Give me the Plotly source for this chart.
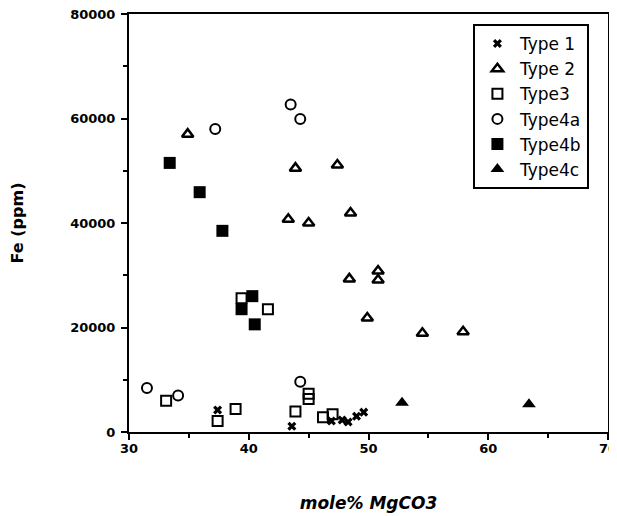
import plotly.graph_objects as go

type1_x = [37.4, 43.6, 46.9, 47.8, 48.3, 49.0, 49.6]
type1_y = [4200, 1100, 2100, 2300, 1900, 3000, 3800]

type2_x = [34.9, 43.9, 47.4, 48.5, 43.3, 45.0, 48.4, 50.8, 50.8, 49.9, 54.5, 57.9]
type2_y = [57000, 50500, 51100, 41900, 40700, 40000, 29300, 30800, 29100, 21800, 18900, 19200]

type3_x = [33.1, 37.4, 38.9, 39.4, 41.6, 43.9, 45.0, 45.0, 46.2, 47.0]
type3_y = [6000, 2100, 4400, 25600, 23500, 3900, 7300, 6300, 2800, 3400]

type4a_x = [31.5, 34.1, 37.2, 43.5, 44.3, 44.3]
type4a_y = [8400, 7000, 58000, 62700, 59900, 9600]

type4b_x = [33.4, 35.9, 37.8, 40.3, 39.4, 40.5]
type4b_y = [51500, 45900, 38500, 26000, 23500, 20600]

type4c_x = [52.8, 63.4]
type4c_y = [5600, 5300]

x_ticks = [30, 40, 50, 60, 70]
y_ticks = [0, 20000, 40000, 60000, 80000]

fig = go.Figure()
black = "black"
fig.add_trace(go.Scatter(x=type1_x, y=type1_y, mode="markers", name="Type 1",
                         marker=dict(symbol="x", size=8, color=black, line=dict(width=0))))
fig.add_trace(go.Scatter(x=type2_x, y=type2_y, mode="markers", name="Type 2",
                         marker=dict(symbol="triangle-up-open", size=10, color=black, line=dict(width=2.5, color=black))))
fig.add_trace(go.Scatter(x=type3_x, y=type3_y, mode="markers", name="Type3",
                         marker=dict(symbol="square-open", size=10, color=black, line=dict(width=2, color=black))))
fig.add_trace(go.Scatter(x=type4a_x, y=type4a_y, mode="markers", name="Type4a",
                         marker=dict(symbol="circle-open", size=10, color=black, line=dict(width=2, color=black))))
fig.add_trace(go.Scatter(x=type4b_x, y=type4b_y, mode="markers", name="Type4b",
                         marker=dict(symbol="square", size=12, color=black)))
fig.add_trace(go.Scatter(x=type4c_x, y=type4c_y, mode="markers", name="Type4c",
                         marker=dict(symbol="triangle-up", size=12, color=black)))

tickfont = dict(family="DejaVu Sans", size=13, color=black, weight="bold")

# page body adds an 8px offset, so the figure is sized/margined to compensate
fig.update_layout(
    width=609, height=508,
    margin=dict(l=121, r=9, t=6, b=84),
    plot_bgcolor="white", paper_bgcolor="white",
    showlegend=True,
    legend=dict(x=0.718, y=0.976, xanchor="left", yanchor="top",
                bordercolor=black, borderwidth=2, bgcolor="white",
                font=dict(family="DejaVu Sans", size=17, color=black),
                tracegroupgap=0, itemwidth=35, entrywidth=80, entrywidthmode="pixels"),
    xaxis=dict(range=[30, 70], tickvals=x_ticks, ticktext=[str(v) for v in x_ticks],
               showgrid=False, zeroline=False, showline=True, linecolor=black, linewidth=2,
               mirror=True, ticks="outside", ticklen=6, tickwidth=2, tickcolor=black,
               minor=dict(dtick=5, ticks="outside", ticklen=4, tickwidth=1.5, tickcolor=black, showgrid=False),
               tickfont=tickfont, automargin=False, ticklabelstandoff=-3, ticklabeloverflow="allow",
               title=dict(text="mole% MgCO3", standoff=43,
                          font=dict(family="DejaVu Sans", size=17, color=black, weight="bold", style="italic"))),
    yaxis=dict(range=[0, 80000], tickvals=y_ticks, ticktext=[str(v) for v in y_ticks],
               showgrid=False, zeroline=False, showline=True, linecolor=black, linewidth=2,
               mirror=True, ticks="outside", ticklen=6, tickwidth=2, tickcolor=black,
               minor=dict(dtick=10000, ticks="outside", ticklen=4, tickwidth=1.5, tickcolor=black, showgrid=False),
               tickfont=tickfont, automargin=False, ticklabelstandoff=3, ticklabeloverflow="allow",
               title=dict(text="Fe (ppm)", standoff=47,
                          font=dict(family="DejaVu Sans", size=16, color=black, weight="bold"))),
)

fig.write_html("out.html")
